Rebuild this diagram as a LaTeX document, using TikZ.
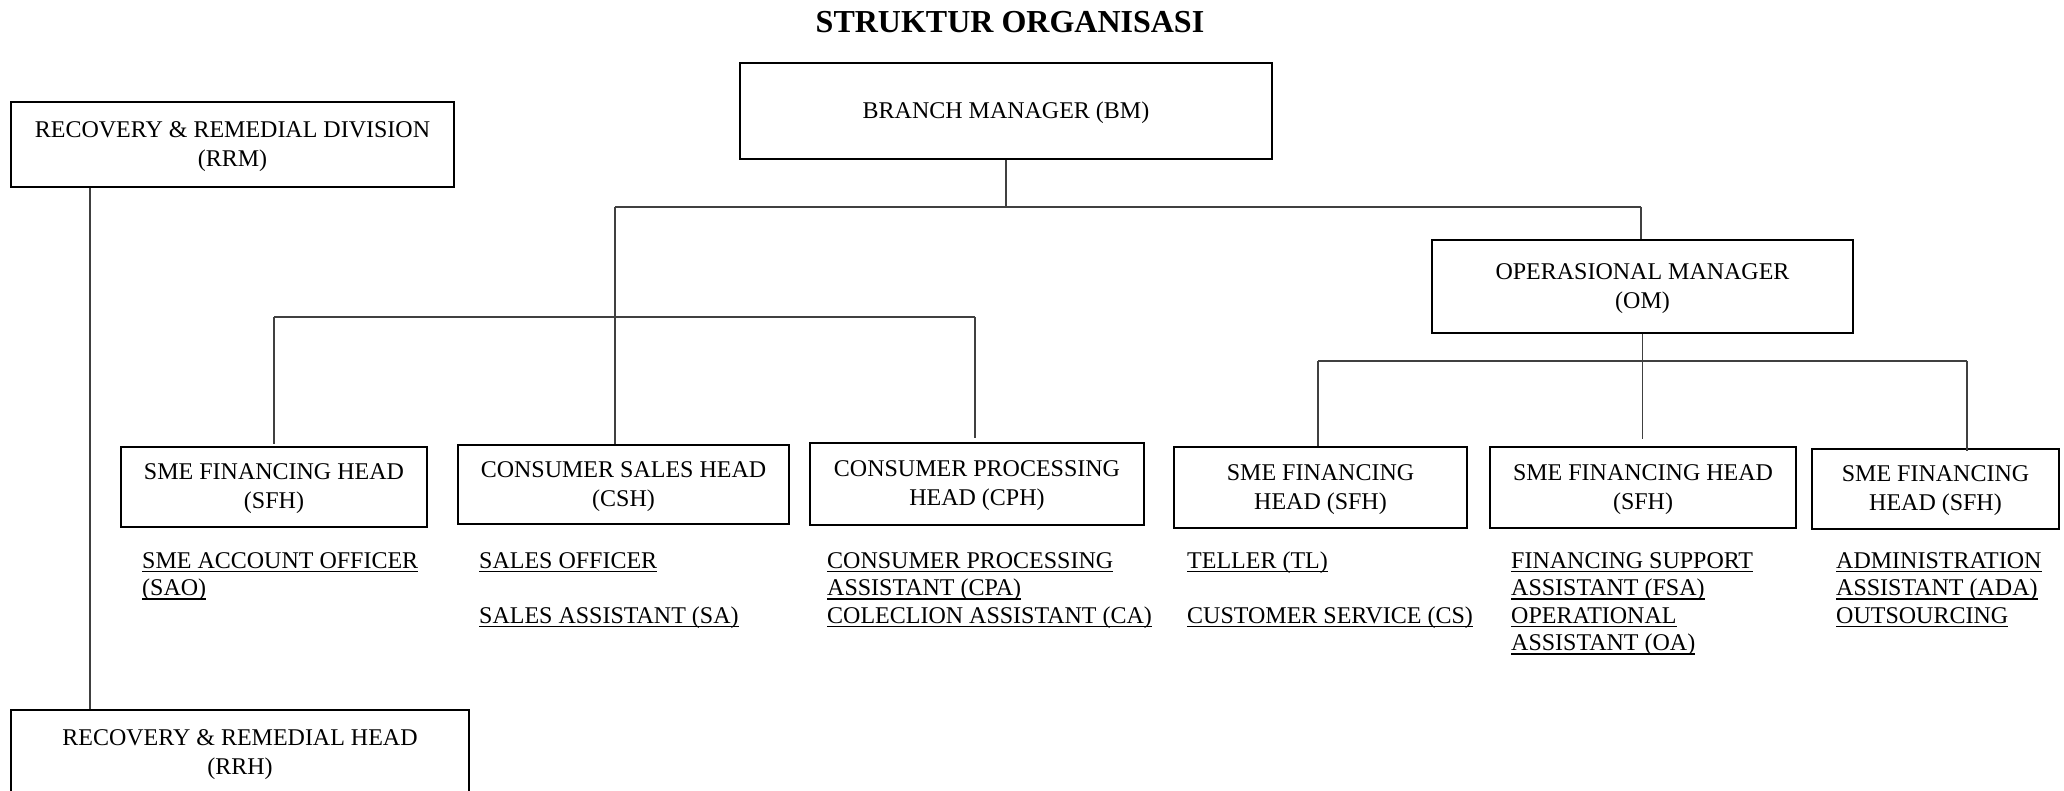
\documentclass[tikz,border=0pt]{standalone}
\usepackage{fontspec}
\setmainfont{Liberation Serif}
\newcommand\boxfont{\fontsize{24}{29}\selectfont}
\newcommand\ulx[1]{\setbox0\hbox{#1}\rlap{\rule[-4pt]{\wd0}{1.5pt}}\box0}
\tikzset{
  orgbox/.style={draw, line width=2pt, inner sep=0pt},
  boxtext/.style={inner sep=0pt, align=center, font=\boxfont, yshift=-1.8pt},
  conn/.style={draw=black!75, line width=1.2pt},
  subitem/.style={anchor=base west, inner sep=0pt, font=\boxfont}
}
\begin{document}
\begin{tikzpicture}[x=1pt,y=-1pt]
\useasboundingbox (0,0) rectangle (2064,791);
\clip (0,0) rectangle (2064,791);
\fill[white] (0,0) rectangle (2064,791);
\node[anchor=base, inner sep=0pt, font=\fontsize{32}{36}\selectfont\bfseries] (title) at (1010,33) {STRUKTUR ORGANISASI};

\node[orgbox, minimum width=443pt, minimum height=85pt] (rrm) at (232.5,144.5) {};
\node[boxtext] (rrmt) at (rrm.center) {RECOVERY \& REMEDIAL DIVISION\\(RRM)};
\node[orgbox, minimum width=532pt, minimum height=96pt] (bm) at (1006,111) {};
\node[boxtext] (bmt) at (bm.center) {BRANCH MANAGER (BM)};
\node[orgbox, minimum width=421pt, minimum height=93pt] (om) at (1642.5,286.5) {};
\node[boxtext] (omt) at (om.center) {OPERASIONAL MANAGER\\(OM)};
\node[orgbox, minimum width=306pt, minimum height=80pt] (sfh1) at (274,487) {};
\node[boxtext] (sfh1t) at (sfh1.center) {SME FINANCING HEAD\\(SFH)};
\node[orgbox, minimum width=331pt, minimum height=79pt] (csh) at (623.5,484.5) {};
\node[boxtext] (csht) at (csh.center) {CONSUMER SALES HEAD\\(CSH)};
\node[orgbox, minimum width=334pt, minimum height=82pt] (cph) at (977,484) {};
\node[boxtext] (cpht) at (cph.center) {CONSUMER PROCESSING\\HEAD (CPH)};
\node[orgbox, minimum width=293pt, minimum height=81pt] (sfh2) at (1320.5,487.5) {};
\node[boxtext] (sfh2t) at (sfh2.center) {SME FINANCING\\HEAD (SFH)};
\node[orgbox, minimum width=306pt, minimum height=81pt] (sfh3) at (1643,487.5) {};
\node[boxtext] (sfh3t) at (sfh3.center) {SME FINANCING HEAD\\(SFH)};
\node[orgbox, minimum width=247pt, minimum height=80pt] (sfh4) at (1935.5,489) {};
\node[boxtext] (sfh4t) at (sfh4.center) {SME FINANCING\\HEAD (SFH)};
\node[orgbox, minimum width=458pt, minimum height=85pt] (rrh) at (240,752.5) {};
\node[boxtext] (rrht) at (rrh.center) {RECOVERY \& REMEDIAL HEAD\\(RRH)};

% junction coordinates
\coordinate (jbm) at (1006,207);
\coordinate (jl) at (615,207);
\coordinate (jr) at (1641,207);
\coordinate (jcl) at (274,317);
\coordinate (jcr) at (975,317);
\coordinate (jol) at (1318,361);
\coordinate (jor) at (1967,361);
\coordinate (rrmx) at (90,0);

\draw[conn] (bm.south) -- (jbm);
\draw[conn] (jl) -- (jr);
\draw[conn] (jl) -- (jl |- csh.north);
\draw[conn] (jr) -- (jr |- om.north);
\draw[conn] (jcl) -- (jcr);
\draw[conn] (jcl) -- ([yshift=2pt]jcl |- sfh1.north);
\draw[conn] (jcr) -- ([yshift=4pt]jcr |- cph.north);
\draw[conn] (om.south) -- ([yshift=7pt]om.south |- sfh3.north);
\draw[conn] (jol) -- (jor);
\draw[conn] (jol) -- (jol |- sfh2.north);
\draw[conn] (jor) -- ([yshift=-3pt]jor |- sfh4.north);
\draw[conn] (rrmx |- rrm.south) -- (rrmx |- rrh.north);

% sub items
\node[subitem] (s1a) at (142,568) {\ulx{SME ACCOUNT OFFICER}};
\node[subitem] (s1b) at (142,595.5) {\ulx{(SAO)}};
\node[subitem] (s2a) at (479,568) {\ulx{SALES OFFICER}};
\node[subitem] (s2b) at (479,623) {\ulx{SALES ASSISTANT (SA)}};
\node[subitem] (s3a) at (827,568) {\ulx{CONSUMER PROCESSING}};
\node[subitem] (s3b) at (827,595.5) {\ulx{ASSISTANT (CPA)}};
\node[subitem] (s3c) at (827,623) {\ulx{COLECLION ASSISTANT (CA)}};
\node[subitem] (s4a) at (1187,568) {\ulx{TELLER (TL)}};
\node[subitem] (s4b) at (1187,623) {\ulx{CUSTOMER SERVICE (CS)}};
\node[subitem] (s5a) at (1511,568) {\ulx{FINANCING SUPPORT}};
\node[subitem] (s5b) at (1511,595.5) {\ulx{ASSISTANT (FSA)}};
\node[subitem] (s5c) at (1511,623) {\ulx{OPERATIONAL}};
\node[subitem] (s5d) at (1511,650.5) {\ulx{ASSISTANT (OA)}};
\node[subitem] (s6a) at (1836,568) {\ulx{ADMINISTRATION}};
\node[subitem] (s6b) at (1836,595.5) {\ulx{ASSISTANT (ADA)}};
\node[subitem] (s6c) at (1836,623) {\ulx{OUTSOURCING}};
\end{tikzpicture}
\end{document}
